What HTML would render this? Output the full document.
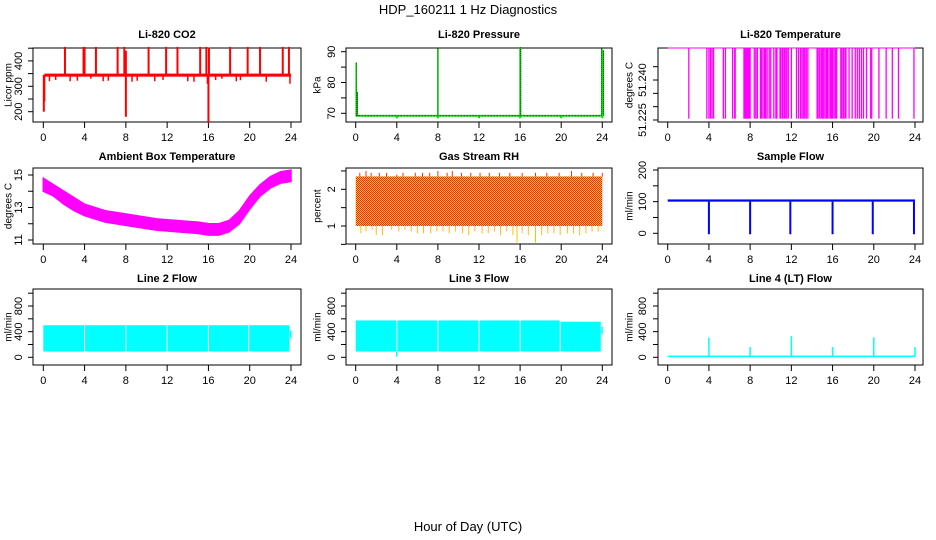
<!DOCTYPE html>
<html><head><meta charset="utf-8"><style>
body{margin:0;background:#fff}
svg{display:block;font-family:"Liberation Sans",sans-serif}
</style></head><body>
<svg id="c" width="936" height="540" viewBox="0 0 936 540">
<defs>
<pattern id="rhpat" width="2" height="2" patternUnits="userSpaceOnUse">
<rect width="2" height="2" fill="#ffd000"/><rect width="1" height="1" fill="#ff2000"/><rect x="1" y="1" width="1" height="1" fill="#ff2000"/>
</pattern>
</defs>
<text x="468" y="14" text-anchor="middle" font-size="13">HDP_160211  1 Hz Diagnostics</text>
<text x="468" y="531" text-anchor="middle" font-size="13">Hour of Day (UTC)</text>
</svg>
<script>
// ---- data ----
const xTicks=[0,4,8,12,16,20,24];
// CO2
const co2Base=[338,350];
const co2SpikeT=[2.1,3.9,4.0,5.1,7.2,7.85,8.0,10.2,11.9,13.0,15.2,15.8,16.05,18.1,19.8,21.0,23.2,23.8];
const co2SpikeV=[455,455,455,455,455,455,440,455,455,455,455,455,452,455,455,455,455,455];
const co2DipT=[0.05,0.1,8.0,16.0,0.6,1.2,2.6,3.3,4.6,5.8,6.3,8.6,9.1,10.8,11.6,14.0,14.6,15.9,16.7,17.3,18.7,19.1,21.6,23.9];
const co2DipV=[200,240,180,155,320,325,320,322,330,320,322,318,322,320,325,320,318,310,325,330,320,324,318,310];
const co2Ticks=[200,300,400];
// Pressure
const presBase=69.2;
const presSpikeT=[0.05,0.15,8.0,16.0,16.05,23.95,24.1];
const presSpikeV=[86.5,77,91,91.5,91.5,91,90.5];
const presDipT=[4,8,12,16,20,24];
const presDipV=[68.4,68.4,68.4,68.4,68.4,68.4];
const presTicks=[70,80,90];
// Li-820 temperature
const tempTop=51.252, tempLow=51.2255;
const tempDropT=[2.05,3.8,4.0,4.15,4.3,4.45,5.4,5.6,6.3,6.5,6.55,7.4,7.5,7.6,7.7,7.8,7.9,8.0,8.4,8.55,8.7,9.0,9.1,9.25,9.4,9.5,9.65,9.85,10.0,10.3,10.5,10.6,10.9,11.0,11.15,11.3,11.4,11.55,11.7,12.0,12.5,12.7,12.9,13.05,13.2,13.3,13.45,13.6,14.5,14.6,14.75,14.9,15.0,15.1,15.25,15.4,15.5,15.65,15.8,15.9,16.0,16.15,16.3,16.4,16.8,16.9,17.05,17.2,17.3,17.6,17.9,18.2,18.4,18.6,18.8,19.0,19.3,19.7,19.8,20.5,21.2,21.8,22.4,23.9];
const tempTicks=[51.225,51.240];
// Ambient box temperature (hourly envelope)
const ambLow=[14.0,13.7,13.2,12.8,12.5,12.3,12.1,12.0,11.9,11.8,11.7,11.6,11.55,11.5,11.45,11.4,11.3,11.3,11.5,12.0,12.9,13.7,14.2,14.5,14.6];
const ambHigh=[14.8,14.4,14.0,13.6,13.2,13.0,12.8,12.7,12.6,12.5,12.4,12.3,12.25,12.2,12.15,12.1,12.0,12.0,12.2,12.8,13.7,14.4,14.9,15.2,15.3];
const ambTicks=[11,13,15];
// Gas stream RH
const rhLow=1.0, rhHigh=2.35;
const rhDipT=[0.5,1.0,1.6,2.0,2.6,3.5,4.2,4.8,5.4,6.0,6.6,7.3,7.9,8.5,9.1,9.7,10.4,11.0,11.6,12.3,12.9,13.5,14.1,14.7,15.3,15.7,16.2,16.8,17.5,18.1,18.7,19.3,19.9,20.6,21.2,21.8,22.4,23.0,23.6];
const rhDipV=[0.8,0.85,0.9,0.75,0.75,0.9,0.85,0.9,0.85,0.8,0.8,0.8,0.85,0.85,0.8,0.85,0.8,0.75,0.85,0.8,0.8,0.85,0.75,0.85,0.75,0.55,0.8,0.75,0.55,0.75,0.8,0.8,0.75,0.8,0.8,0.75,0.8,0.85,0.85];
const rhUpT=[0.4,1.0,1.5,2.3,3.0,4.0,4.6,5.8,6.5,7.2,8.0,8.9,9.4,10.3,11.2,12.1,13.0,14.0,15.0,16.2,17.5,18.6,19.8,21.0,22.0,23.1,24.0];
const rhUpV=[2.45,2.5,2.45,2.45,2.45,2.4,2.45,2.45,2.45,2.45,2.5,2.45,2.5,2.45,2.45,2.45,2.45,2.45,2.45,2.45,2.45,2.45,2.45,2.5,2.45,2.45,2.45];
const rhTicks=[1.0,2.0];
// Sample flow
const sfBase=[100,107];
const sfDipT=[4,8,11.9,16,19.9,23.9];
const sfDipV=[-3,-3,-3,-3,-3,-3];
const sfTicks=[0,100,200];
// Line 2 flow
const l2Start=[0,4.05,8.05,12.05,16.05,19.95];
const l2End=[3.95,7.95,11.95,15.95,19.85,23.85];
const l2Low=[90,90,90,90,90,90], l2High=[500,500,500,500,500,500];
// Line 3 flow
const l3Start=[0,4.05,8.05,12.05,16.05,19.95];
const l3End=[3.95,7.95,11.95,15.95,19.85,23.85];
const l3Low=[90,90,90,90,90,90], l3High=[575,575,575,575,575,555];
const flowTicks=[0,400,800];
// Line 4 flow
const l4Base=15;
const l4SpikeT=[4,8,12,16,20,24];
const l4SpikeV=[310,160,330,160,310,160];

// ---- layout ----
const NS="http://www.w3.org/2000/svg";
const svg=document.getElementById('c');
const cols=[{bl:33,br:301,x0:43.3,x24:291,tl:19,yl:9},{bl:346,br:612,x0:355.7,x24:602.3,tl:332,yl:318},{bl:658,br:923,x0:667.7,x24:915,tl:643,yl:630}];
const rows=[{bt:48,bb:122,ty:38},{bt:168,bb:244,ty:160},{bt:289,bb:365,ty:282}];
function mk(tag,at,parent){const e=document.createElementNS(NS,tag);for(const k in at)e.setAttribute(k,at[k]);(parent||svg).appendChild(e);return e;}
function panel(ci,ri,title,ylab,name,vA,pA,vB,pB,ticks,minor,labelX){
  const c=cols[ci],r=rows[ri];
  const g=mk('g',{});
  
  
  const xs=h=>c.x0+h*(c.x24-c.x0)/24;
  const ys=v=>pA+(v-vA)*(pB-pA)/(vB-vA);
  const t=mk('text',{x:(c.bl+c.br)/2,y:r.ty,'text-anchor':'middle','font-size':11,'font-weight':'bold'},g);t.textContent=title;
  
  const yl=mk('text',{x:c.yl,y:(r.bt+r.bb)/2,'text-anchor':'middle','font-size':10,transform:`rotate(-90 ${c.yl} ${(r.bt+r.bb)/2})`,'dominant-baseline':'middle'},g);yl.textContent=ylab;
  
  const ax=mk('g',{stroke:'#000','stroke-width':1,fill:'none'},g);
  
  mk('rect',{x:c.bl,y:r.bt,width:c.br-c.bl,height:r.bb-r.bt},ax);
  mk('line',{x1:xs(0),x2:xs(24),y1:r.bb,y2:r.bb},ax);
  xTicks.forEach(h=>{mk('line',{x1:xs(h),x2:xs(h),y1:r.bb,y2:r.bb+6},ax);
    if(labelX){const tx=mk('text',{x:xs(h),y:r.bb+19,'text-anchor':'middle','font-size':11,fill:'#000',stroke:'none'},g);tx.textContent=h;
      }});
  minor.forEach(v=>mk('line',{x1:c.bl-5,x2:c.bl,y1:ys(v),y2:ys(v)},ax));
  ticks.forEach(v=>{const tx=mk('text',{x:c.tl,y:ys(v),'text-anchor':'middle','font-size':11,transform:`rotate(-90 ${c.tl} ${ys(v)})`,'dominant-baseline':'middle'},g);
    tx.textContent=String(v).length<4&&v%1!==0?v.toFixed(1):(v===51.24?'51.240':String(v));
    });
  const d=mk('g',{},g);
  
  return {xs,ys,d};
}
function vline(p,t,a,b,col,w){const l=mk('line',{x1:p.xs(t),x2:p.xs(t),y1:p.ys(a),y2:p.ys(b),stroke:col,'stroke-width':w||1},p.d);
  return l;}
function band(p,t0,t1,lo,hi,fill){const x=p.xs(t0),w=p.xs(t1)-x;const r=mk('rect',{x:x,y:p.ys(hi),width:w,height:p.ys(lo)-p.ys(hi),fill:fill},p.d);
  return r;}

// CO2
let p=panel(0,0,'Li-820 CO2','Licor ppm','co2',200,111.7,450,48.2,co2Ticks,[200,250,300,350,400,450],true);
band(p,0.1,24,co2Base[0],co2Base[1],'#ff0000');
co2SpikeT.forEach((t,i)=>vline(p,t,345,co2SpikeV[i],'#ff0000',2));
co2DipT.forEach((t,i)=>vline(p,t,345,co2DipV[i],'#ff0000',i<4?2:1.5));
// Pressure
p=panel(1,0,'Li-820 Pressure','kPa','pressure',70,113.3,90,51.7,presTicks,[70,75,80,85,90],true);
band(p,0,24,presBase-0.3,presBase+0.3,'#00dd00');
mk('line',{x1:p.xs(0),x2:p.xs(24),y1:p.ys(presBase),y2:p.ys(presBase),stroke:'#000','stroke-dasharray':'1 2'},p.d);
presSpikeT.forEach((t,i)=>{vline(p,t,presBase,presSpikeV[i],'#00dd00',1.5);vline(p,t,presBase,presSpikeV[i],'#000',0.6).setAttribute('stroke-dasharray','1 1');});
presDipT.forEach((t,i)=>vline(p,t,presBase,presDipV[i],'#00dd00',2));
// Li-820 Temperature
p=panel(2,0,'Li-820 Temperature','degrees C','li820-temperature',51.225,120,51.245,66.7,tempTicks,[51.225,51.23,51.235,51.24,51.245],true);
mk('line',{x1:p.xs(0),x2:p.xs(24),y1:p.ys(tempTop),y2:p.ys(tempTop),stroke:'#ff00ff','stroke-width':1},p.d);
tempDropT.forEach(t=>vline(p,t,tempTop,tempLow,'#ff00ff',1.3));
// Ambient
p=panel(0,1,'Ambient Box Temperature','degrees C','ambient-temperature',11,240,15,175,ambTicks,[11,12,13,14,15],true);
{let pts=[];ambHigh.forEach((v,i)=>pts.push(p.xs(i)+','+p.ys(v)));for(let i=ambLow.length-1;i>=0;i--)pts.push(p.xs(i)+','+p.ys(ambLow[i]));
 const pg=mk('polygon',{points:pts.join(' '),fill:'#ff00ff',stroke:'#ff00ff','stroke-width':1.5},p.d);
 }
// RH
p=panel(1,1,'Gas Stream RH','percent','gas-rh',1.0,226,2.0,189.3,rhTicks,[0.5,1,1.5,2,2.5],true);
band(p,0,24,rhLow,rhHigh,'url(#rhpat)');
rhDipT.forEach((t,i)=>vline(p,t,rhLow,rhDipV[i],'#ffc000',1));
rhUpT.forEach((t,i)=>vline(p,t,rhHigh,rhUpV[i],'#ff3000',1));
// Sample flow
p=panel(2,1,'Sample Flow','ml/min','sample-flow',0,233.3,200,170,sfTicks,[0,50,100,150,200],true);
band(p,0,24,sfBase[0],sfBase[1],'#0000ff');
sfDipT.forEach((t,i)=>vline(p,t,100,sfDipV[i],'#0000ff',2));
// Line 2
p=panel(0,2,'Line 2 Flow','ml/min','line2-flow',0,357.3,800,306,flowTicks,[0,200,400,600,800,1000],true);
l2Start.forEach((s,i)=>band(p,s,l2End[i],l2Low[i],l2High[i],'#00ffff'));
band(p,23.9,24.05,300,420,'#00ffff');
// Line 3
p=panel(1,2,'Line 3 Flow','ml/min','line3-flow',0,357.3,800,306,flowTicks,[0,200,400,600,800,1000],true);
l3Start.forEach((s,i)=>band(p,s,l3End[i],l3Low[i],l3High[i],'#00ffff'));
band(p,23.9,24.05,360,480,'#00ffff');
vline(p,4,90,10,'#00ffff',1.5);
// Line 4
p=panel(2,2,'Line 4 (LT) Flow','ml/min','line4-flow',0,357.3,800,306,flowTicks,[0,200,400,600,800,1000],true);
band(p,0,24,l4Base-12,l4Base+12,'#00ffff');
l4SpikeT.forEach((t,i)=>vline(p,t,l4Base,l4SpikeV[i],'#00ffff',1.5));
</script>
</body></html>
